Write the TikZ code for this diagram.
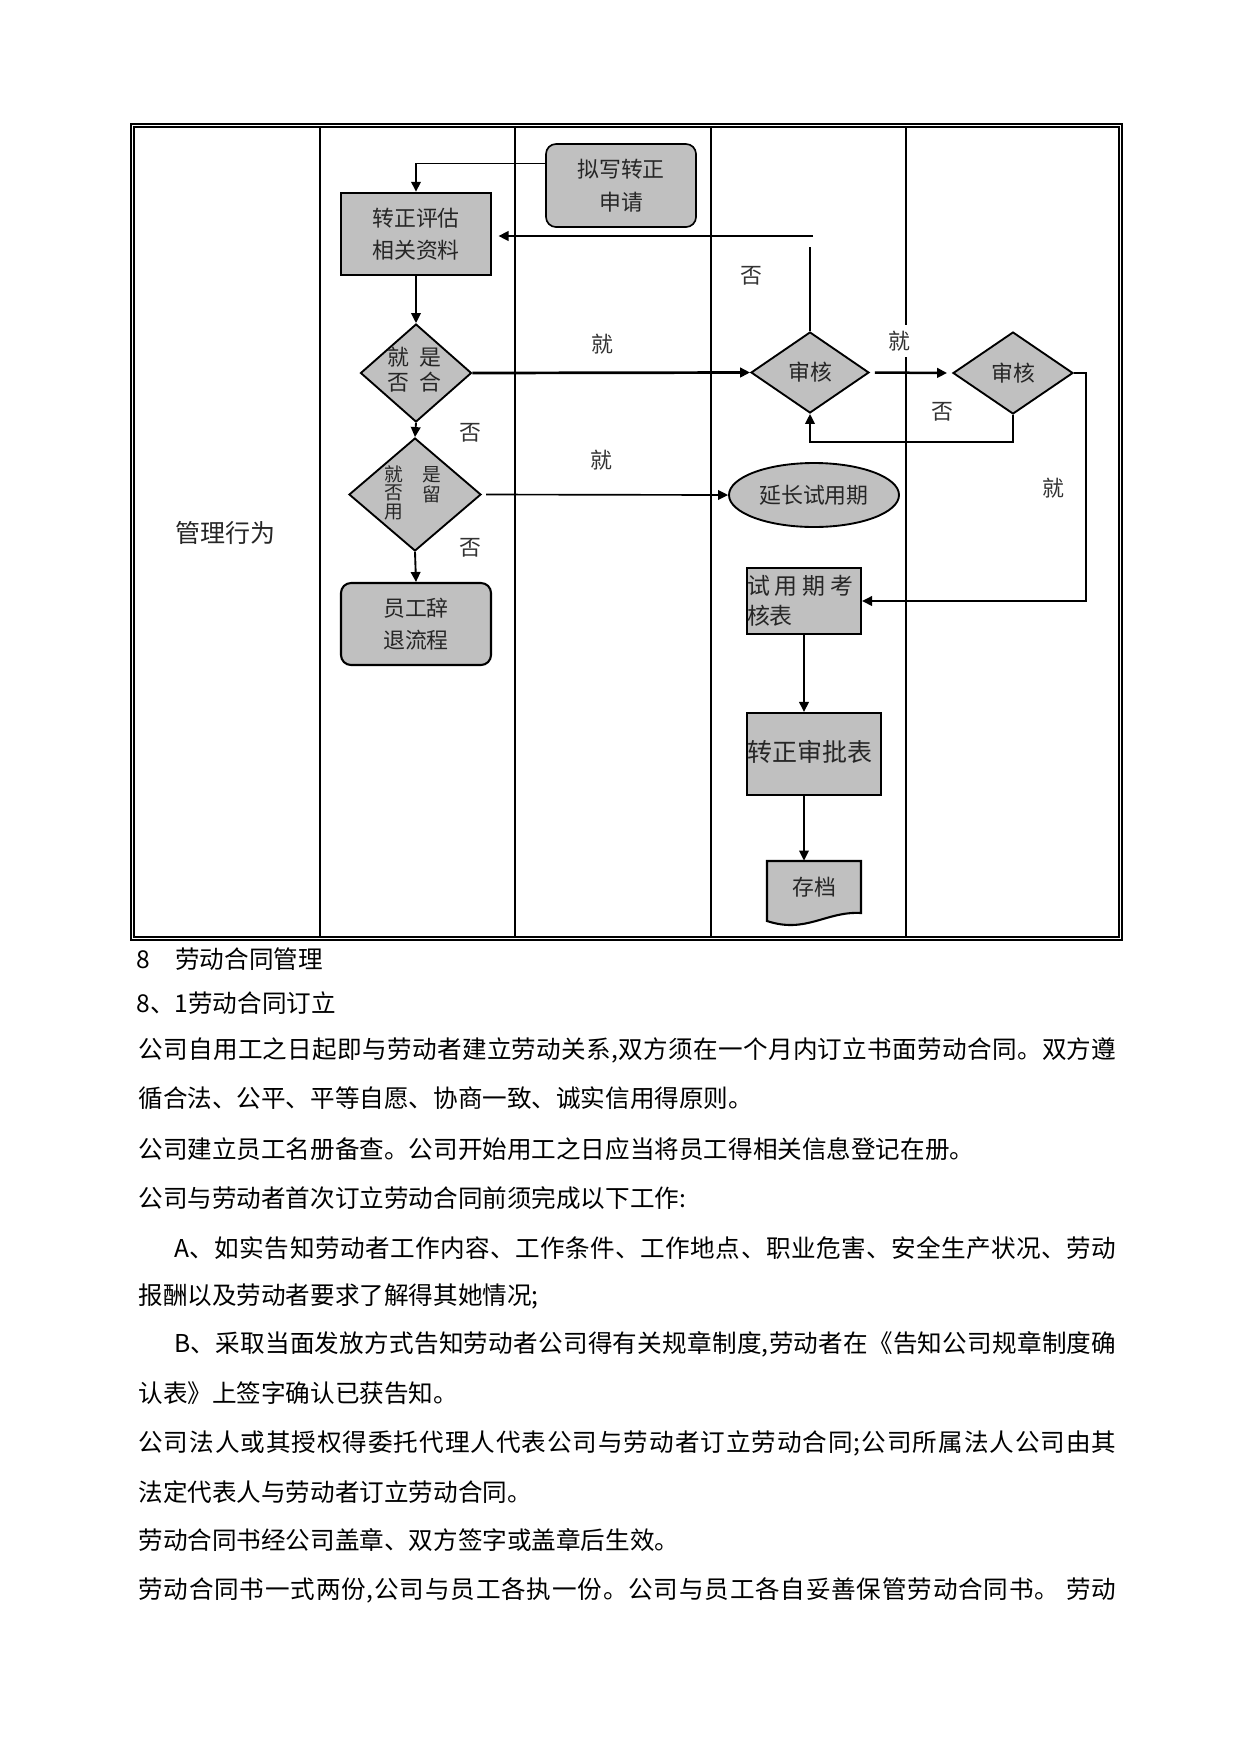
\documentclass[tikz,border=0pt]{standalone}
\usepackage{fontspec}
\setmainfont{Noto Sans CJK SC}
\usetikzlibrary{shapes.geometric,arrows.meta,calc}
\definecolor{boxgray}{RGB}{192,192,192}
\newdimen\pxu \pxu=0.48pt
\def\endspread{endspread}
\def\spreadtok#1{\ifx\endspread#1\else#1\hskip 0pt plus 1fil\relax\expandafter\spreadtok\fi}
\newcommand\jline[2]{\hbox to #1\pxu{\spreadtok#2\endspread\unskip}}
\tikzset{
  sz/.style 2 args={minimum width=#1*0.48pt, minimum height=#2*0.48pt},
  box/.style={rectangle, draw, fill=boxgray, line width=1pt, inner sep=0pt, align=center,
    text=black!85, font=\fontsize{10.5}{15.6}\selectfont},
  rbox/.style={box, rounded corners=4.8pt},
  dia/.style={diamond, draw, fill=boxgray, line width=0.9pt, inner sep=0pt,
    text=black!85, font=\fontsize{10.5}{12}\selectfont},
  dtext/.style={inner sep=0pt, text=black!85, font=\fontsize{10.5}{12}\selectfont},
  dtexts/.style={inner sep=0pt, text=black!85, font=\fontsize{9}{10}\selectfont},
  lab/.style={inner sep=1pt, text=black!80, font=\fontsize{10.5}{12}\selectfont},
  arr/.style={-{Triangle[length=4.8pt,width=4.6pt]}, line width=0.9pt},
  body/.style={anchor=west, inner sep=0pt, font=\fontsize{11.8}{14}\selectfont}
}
\begin{document}
\begin{tikzpicture}[x=0.48pt, y=-0.48pt]
\path[use as bounding box, fill=white] (0,0) rectangle (1241,1754);

% frame and lanes
\draw[line width=1pt] (131,124) rectangle (1122,940);
\draw[line width=0.5pt] (134,127) rectangle (1119,937);
\draw[line width=0.6pt] (320,127) -- (320,937);
\draw[line width=1.1pt] (515,127) -- (515,937);
\draw[line width=0.6pt] (711,127) -- (711,937);
\draw[line width=1.1pt] (906,127) -- (906,937);

\node[font=\fontsize{12}{14}\selectfont, text=black!85] (lane) at (225,533) {管理行为};

% nodes
\node[rbox, sz={150}{83}, line width=0.8pt] (nx) at (621,185.5) {拟写转正\\申请};
\node[box, sz={150}{82}, line width=1.2pt] (zz) at (416,234) {转正评估\\相关资料};
\node[dia, sz={111}{98}] (d1) at (416,373) {};
\node[dia, sz={132}{113}] (d2) at (415,494.5) {};
\node[rbox, sz={150}{82}] (rb) at (416,624) {员工辞\\退流程};
\node[dia, sz={118}{81}] (sh1) at (810,372.5) {审核};
\node[dia, sz={120}{82}] (sh2) at (1013,373) {审核};
\node[ellipse, draw, fill=boxgray, line width=0.9pt, inner sep=0pt, sz={170}{64},
  text=black!85, font=\fontsize{10.5}{12}\selectfont] (ey) at (814,495) {延长试用期};
\node[box, sz={114}{66}, text width=54.72pt, align=left,
  font=\fontsize{11}{14.4}\selectfont] (kh) at (804,601)
  {试\hspace{2.4pt}用\hspace{2.4pt}期\hspace{2.4pt}考\\核表};
\node[box, sz={134}{82}, text width=64.32pt, align=left,
  font=\fontsize{12}{14}\selectfont] (sp) at (814,754) {\raisebox{2.9pt}{转正审批表}};
\draw[fill=boxgray, line width=1pt] (767,861) -- (861,861) -- (861,913)
  .. controls (826,911) and (806,934) .. (767,921) -- cycle;
\node[inner sep=0pt, sz={94}{52}, text=black!85, font=\fontsize{10.5}{12}\selectfont] (cd) at (814,887) {存档};

% diamond texts
\node[dtext] at (398,357) {就};
\node[dtext] at (430,358) {是};
\begin{scope}
\clip (380,371) rectangle (420,396);
\node[dtext] at (398,383) {否};
\end{scope}
\node[dtext] at (430,382) {合};
\node[dtexts] at (394,474) {就};
\node[dtexts] at (394,493) {否};
\node[dtexts] at (394,512) {用};
\node[dtexts] at (432,475) {是};
\node[dtexts] at (432,494) {留};

% connectors
\draw[arr, line width=0.8pt] ([yshift=10.6pt]nx.west) -| (zz.north);
\draw[arr] (zz.south) -- (d1.north);
\draw[arr] (d1.south) -- (d2.north);
\draw[arr] (d2.south) -- (rb.north);
\draw[arr, line width=1.3pt] (d1.east) -- (sh1.west);
\draw[arr, line width=0.8pt, shorten <=2pt] (d2.east) -- (ey.west);
\draw[arr, line width=1.2pt, shorten <=2.4pt, shorten >=2.4pt] (sh1.east) -- (sh2.west);
\coordinate (c3) at (813,236);
\draw[line width=0.6pt] (sh1.north) -- ++(0,-84);
\draw[arr, line width=1pt, shorten >=3pt] (c3) -- (c3 -| zz.east);
\draw[arr] (sh2.south) -- ++(0,27) -| (sh1.south);
\draw[arr] (sh2.east) -- ++(12,0) |- (kh.east);
\draw[arr] (kh.south) -- (kh.south |- sp.north);
\draw[arr] (kh.south |- sp.south) -- (kh.south |- cd.north);

% labels
\node[lab] at (602,344) {就};
\node[lab] at (601,460) {就};
\node[lab, fill=white, inner sep=3pt] at (899,341) {就};
\node[lab] at (751,276) {否};
\node[lab] at (942,412) {否};
\node[lab] at (1053,488) {就};
\node[lab] at (470,433) {否};
\node[lab] at (470,548) {否};

% body text
\node[body] (h1) at (136,959) {\makebox[39\pxu][l]{8}劳动合同管理};
\node[body] (h2) at (136,1003) {8、1劳动合同订立};
\node[body] (t1) at (138,1050) {\jline{978}{公司自用工之日起即与劳动者建立劳动关系,双方须在一个月内订立书面劳动合同。双方遵}};
\node[body] (t2) at (138,1098) {循合法、公平、平等自愿、协商一致、诚实信用得原则。};
\node[body] (t3) at (138,1149) {公司建立员工名册备查。公司开始用工之日应当将员工得相关信息登记在册。};
\node[body] (t4) at (138,1198) {公司与劳动者首次订立劳动合同前须完成以下工作:};
\node[body] (t5) at (174,1248) {\jline{942}{A、如实告知劳动者工作内容、工作条件、工作地点、职业危害、安全生产状况、劳动}};
\node[body] (t6) at (138,1296) {报酬以及劳动者要求了解得其她情况;};
\node[body] (t7) at (174,1344) {\jline{942}{B、采取当面发放方式告知劳动者公司得有关规章制度,劳动者在《告知公司规章制度确}};
\node[body] (t8) at (138,1393) {认表》上签字确认已获告知。};
\node[body] (t9) at (138,1443) {\jline{978}{公司法人或其授权得委托代理人代表公司与劳动者订立劳动合同;公司所属法人公司由其}};
\node[body] (t10) at (138,1492) {法定代表人与劳动者订立劳动合同。};
\node[body] (t11) at (138,1540) {劳动合同书经公司盖章、双方签字或盖章后生效。};
\node[body] (t12) at (138,1590) {\jline{978}{劳动合同书一式两份,公司与员工各执一份。公司与员工各自妥善保管劳动合同书。{\ }劳动}};
\end{tikzpicture}
\end{document}
